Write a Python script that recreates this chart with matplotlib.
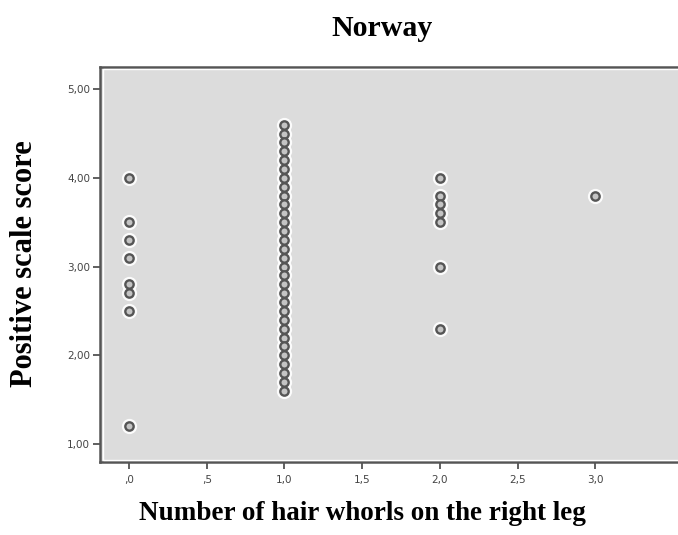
import matplotlib
matplotlib.use("Agg")
import matplotlib.pyplot as plt
from matplotlib.ticker import FixedLocator, FixedFormatter

# Data
whorls_0 = [4.0, 3.5, 3.3, 3.1, 2.8, 2.7, 2.5, 1.2]
whorls_1 = [4.6, 4.5, 4.4, 4.3, 4.2, 4.1, 4.0, 3.9, 3.8, 3.7, 3.6, 3.5, 3.4, 3.3,
            3.2, 3.1, 3.0, 2.9, 2.8, 2.7, 2.6, 2.5, 2.4, 2.3, 2.2, 2.1, 2.0,
            1.9, 1.8, 1.7, 1.6]
whorls_2 = [4.0, 3.8, 3.7, 3.6, 3.5, 3.0, 2.3]
whorls_3 = [3.8]
groups = [0, 1, 2, 3]
scores = [whorls_0, whorls_1, whorls_2, whorls_3]

x_ticks = [0.0, 0.5, 1.0, 1.5, 2.0, 2.5, 3.0]
x_tick_labels = [",0", ",5", "1,0", "1,5", "2,0", "2,5", "3,0"]
y_ticks = [1.0, 2.0, 3.0, 4.0, 5.0]
y_tick_labels = ["1,00", "2,00", "3,00", "4,00", "5,00"]

W, H = 678, 535
fig = plt.figure(figsize=(W / 100, H / 100), dpi=100)
left, right, top, bottom = 100, 690, 67, 462
ax = fig.add_axes([left / W, 1 - bottom / H, (right - left) / W, (bottom - top) / H])
ax.set_facecolor("#dcdcdc")

# thin white inner frame line
inner = plt.Rectangle((left / W + 2.5 / W, 1 - bottom / H + 2.5 / H),
                      (right - left) / W, (bottom - top - 5) / H,
                      transform=fig.transFigure, fill=False, edgecolor="white",
                      linewidth=1.0, zorder=5)
fig.patches.append(inner)

for g, vals in zip(groups, scores):
    xs = [g] * len(vals)
    ax.plot(xs, vals, linestyle="none", marker="o", markersize=10,
            markerfacecolor="white", markeredgecolor="white", alpha=0.85, zorder=2)
for g, vals in zip(groups, scores):
    xs = [g] * len(vals)
    ax.plot(xs, vals, linestyle="none", marker="o", markersize=6,
            markerfacecolor="#c4c4c4", markeredgecolor="#555555",
            markeredgewidth=1.7, zorder=3)

ax.set_xlim(-0.1865, 3.608)
ax.set_ylim(0.797, 5.25)

ax.xaxis.set_major_locator(FixedLocator(x_ticks))
ax.xaxis.set_major_formatter(FixedFormatter(x_tick_labels))
ax.yaxis.set_major_locator(FixedLocator(y_ticks))
ax.yaxis.set_major_formatter(FixedFormatter(y_tick_labels))
ax.tick_params(axis="both", direction="out", length=5, width=1.2, color="#444444",
               labelsize=7.5, labelcolor="#444444", pad=2)
ax.tick_params(axis="x", pad=4)

for side in ["left", "bottom", "top"]:
    ax.spines[side].set_color("#555555")
    ax.spines[side].set_linewidth(1.8)
ax.spines["right"].set_visible(False)

serif = ["Liberation Serif", "DejaVu Serif"]
fig.text(382 / W, 1 - 28 / H, "Norway", ha="center", va="center",
         fontsize=21.5, fontweight="bold", family=serif, color="black")
fig.text(362 / W, 1 - 514 / H, "Number of hair whorls on the right leg", ha="center",
         va="center", fontsize=19.5, fontweight="bold", family=serif, color="black")
fig.text(25 / W, 1 - 264 / H, "Positive scale score", ha="center", va="center",
         rotation=90, fontsize=22, fontweight="bold", family=serif, color="black")

fig.savefig("out.png", dpi=100)
